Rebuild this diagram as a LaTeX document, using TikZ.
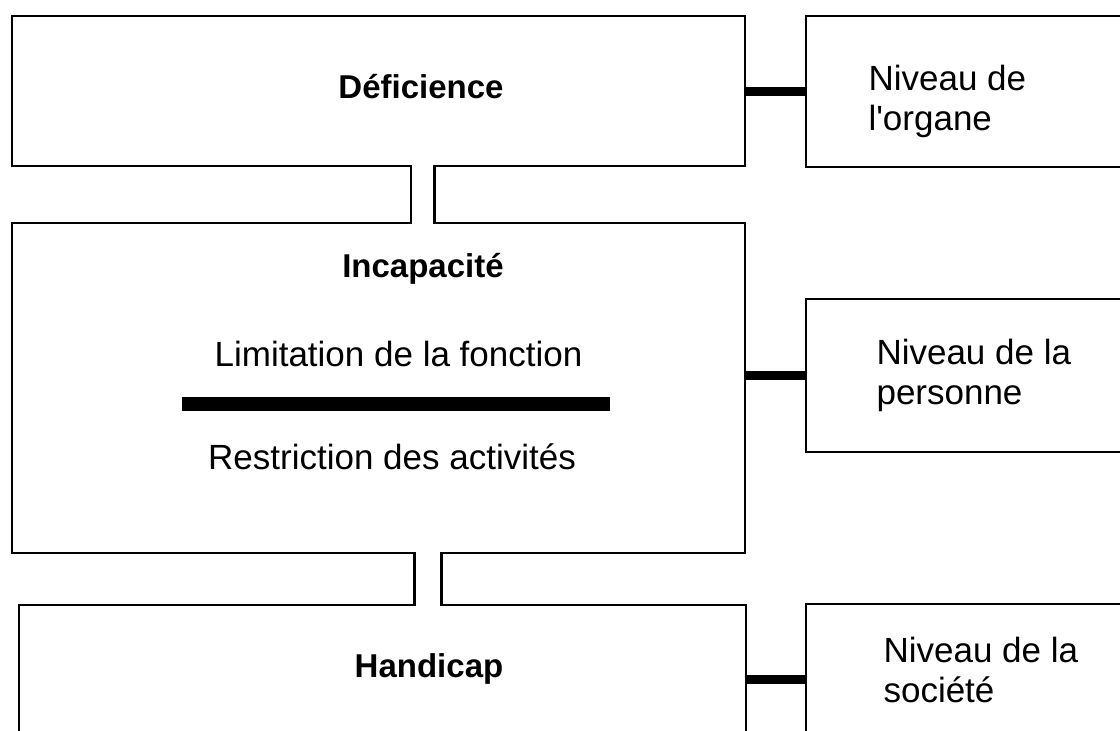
\documentclass[tikz,border=0pt]{standalone}
\usepackage{fontspec}
\setmainfont{Liberation Sans}[Ligatures=TeXOff]
\usetikzlibrary{positioning}

\begin{document}
\begin{tikzpicture}[x=1pt,y=-1pt]
\tikzstyle{every node}=[font=\fontsize{35}{40}\selectfont]
\tikzstyle{box}=[draw, line width=2.5pt, inner sep=0pt, outer sep=0pt, anchor=north west]
\tikzstyle{title}=[font=\fontsize{33}{40}\selectfont\bfseries, anchor=base]
\tikzstyle{level}=[align=left, anchor=base west]
\tikzstyle{link}=[line width=9pt]
\tikzstyle{stem}=[line width=2.5pt, line cap=rect]
\useasboundingbox (0,0) rectangle (1120,731);
\clip (0,0) rectangle (1120,731);
% boxes
\node[box, minimum width=733, minimum height=150] (def) at (12,16) {};
\node[box, minimum width=733, minimum height=330] (inc) at (12,223) {};
\node[box, minimum width=727, minimum height=148] (hand) at (19,605) {};
\node[box, minimum width=394, minimum height=151] (org) at (806,16) {};
\node[box, minimum width=394, minimum height=153] (pers) at (806,299) {};
\node[box, minimum width=394, minimum height=150] (soc) at (806,604) {};
% stems between the boxes
\coordinate (stemA) at (411,0);
\coordinate (stemB) at (434.5,0);
\coordinate (stemC) at (414.5,0);
\coordinate (stemD) at (441.3,0);
\fill[white] ([yshift=2pt]def.south -| stemA) rectangle ([yshift=-2pt]inc.north -| stemB);
\fill[white] ([yshift=2pt]inc.south -| stemC) rectangle ([yshift=-2pt]hand.north -| stemD);
\draw[stem] (def.south -| stemA) -- (inc.north -| stemA);
\draw[stem] (def.south -| stemB) -- (inc.north -| stemB);
\draw[stem] (inc.south -| stemC) -- (hand.north -| stemC);
\draw[stem] (inc.south -| stemD) -- (hand.north -| stemD);
% links to the levels
\draw[link] (def.east) -- (def.east -| org.west);
\draw[link] (pers.west -| inc.east) -- (pers.west);
\draw[link] (soc.west -| hand.east) -- (soc.west);
% texts
\node[title] (deft) at (421,98) {Déficience};
\node[title] (inct) at (423,277) {Incapacité};
\node[anchor=base] (limit) at (398.5,366) {Limitation de la fonction};
\node[fill, minimum width=428, minimum height=14, inner sep=0pt] (bar) at (396,404) {};
\node[anchor=base] (restr) at (392,469) {Restriction des activités};
\node[title] (handt) at (429,677) {Handicap};
\node[level] (orgt) at (865,130) {Niveau de\\l'organe};
\node[level] (perst) at (873,404) {Niveau de la\\personne};
\node[level] (soct) at (880,702) {Niveau de la\\société};
\end{tikzpicture}
\end{document}
